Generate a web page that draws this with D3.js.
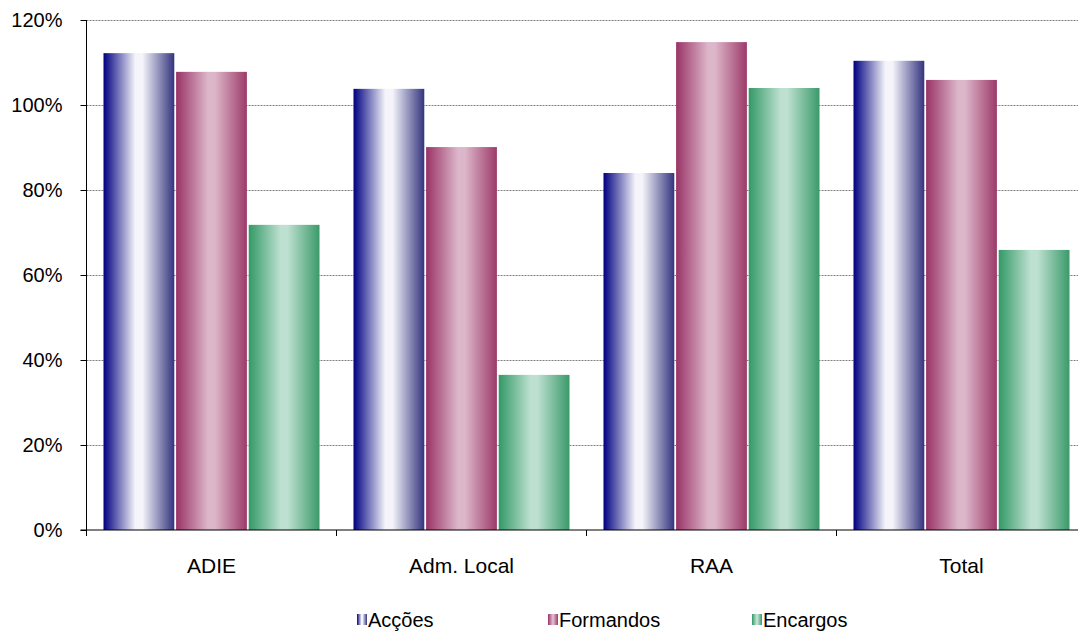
<!DOCTYPE html>
<html><head><meta charset="utf-8">
<script src="https://cdn.jsdelivr.net/npm/d3@7"></script>
<style>body{margin:0;background:#fff}svg{display:block}text{font-family:"Liberation Sans",Arial,sans-serif;fill:#000}</style>
</head><body><svg id="c" width="1078" height="632"></svg>
<script>
const categories = ["ADIE", "Adm. Local", "RAA", "Total"];
const seriesNames = ["Acções", "Formandos", "Encargos"];
const accoes = [112.2, 103.8, 84.0, 110.4];
const formandos = [107.8, 90.1, 114.8, 105.9];
const encargos = [71.8, 36.5, 104.0, 65.9];
const yTicks = [0, 20, 40, 60, 80, 100, 120];
const seriesValues = [accoes, formandos, encargos];
const colors = [
  ["#000080", "#f4f4fa", "#34347f"],
  ["#993366", "#dcb6c9", "#9c3a69"],
  ["#339966", "#bde0d0", "#3a9a6a"]
];

const svg = d3.select("#c");
const x0 = 86.5, x1 = 1086.5, yTop = 20, yBot = 530;
const x = d3.scaleBand().domain(categories).range([x0, x1]).paddingInner(0).paddingOuter(0);
const xs = d3.scaleBand().domain(seriesNames).range([17, x.bandwidth() - 17]).paddingInner(0.025).paddingOuter(0);
const y = d3.scaleLinear().domain([0, 120]).range([yBot, yTop]);

const defs = svg.append("defs");
seriesNames.forEach((s, i) => {
  const g = defs.append("linearGradient").attr("id", "g" + i).attr("x1", "0").attr("x2", "1").attr("y1", "0").attr("y2", "0");
  g.append("stop").attr("offset", "0").attr("stop-color", colors[i][0]);
  g.append("stop").attr("offset", "0.45").attr("stop-color", colors[i][1]);
  g.append("stop").attr("offset", "0.55").attr("stop-color", colors[i][1]);
  g.append("stop").attr("offset", "1").attr("stop-color", colors[i][2]);
});

// gridlines
svg.append("g").selectAll("line").data(yTicks.filter(d => d > 0)).join("line")
  .attr("x1", x0).attr("x2", 1078).attr("y1", d => Math.round(y(d)) + 0.5).attr("y2", d => Math.round(y(d)) + 0.5)
  .attr("stroke", "#808080").attr("stroke-width", 1).attr("stroke-dasharray", "2,1");

// bars
const data = [];
categories.forEach((c, ci) => seriesNames.forEach((s, si) => data.push({c, s, si, v: seriesValues[si][ci]})));
svg.append("g").selectAll("rect").data(data).join("rect")
  .attr("x", d => x(d.c) + xs(d.s))
  .attr("width", xs.bandwidth())
  .attr("y", d => y(d.v))
  .attr("height", d => y(0) - y(d.v))
  .attr("fill", d => "url(#g" + d.si + ")");

// y axis
const yAxis = d3.axisLeft(y).tickValues(yTicks).tickFormat(d => d + "%").tickSize(6).tickPadding(18);
const ya = svg.append("g").attr("transform", `translate(${x0},0)`).call(yAxis);
ya.select(".domain").remove();
ya.append("line").attr("x1", 0).attr("x2", 0).attr("y1", yTop).attr("y2", yBot).attr("stroke", "#000");
ya.selectAll(".tick line").attr("stroke", "#000");
ya.selectAll(".tick text").attr("font-size", 20).attr("font-family", "Liberation Sans, Arial, sans-serif").attr("fill", "#000");

// x axis
const xAxis = d3.axisBottom(x).tickSize(0).tickPadding(28);
const xa = svg.append("g").attr("transform", `translate(0,${yBot})`).call(xAxis);
xa.select(".domain").remove();
xa.append("line").attr("x1", x0 - 6).attr("x2", 1078).attr("y1", 0).attr("y2", 0).attr("stroke", "#000");
xa.selectAll(".tick text").attr("font-size", 21).attr("font-family", "Liberation Sans, Arial, sans-serif").attr("fill", "#000");
const bounds = categories.map(c => x(c)).concat([x1]);
xa.selectAll(".bt").data(bounds).join("line").attr("class", "bt")
  .attr("x1", d => d).attr("x2", d => d).attr("y1", 0).attr("y2", 6).attr("stroke", "#000");

// legend
const legX = [357, 548, 752];
const leg = svg.append("g").selectAll("g").data(seriesNames).join("g")
  .attr("transform", (d, i) => `translate(${legX[i]},614)`);
leg.append("rect").attr("x", 0).attr("y", 0).attr("width", 10).attr("height", 11).attr("fill", (d, i) => `url(#g${i})`);
leg.append("text").attr("x", 11).attr("y", 13).attr("font-size", 20).text(d => d);
</script></body></html>
